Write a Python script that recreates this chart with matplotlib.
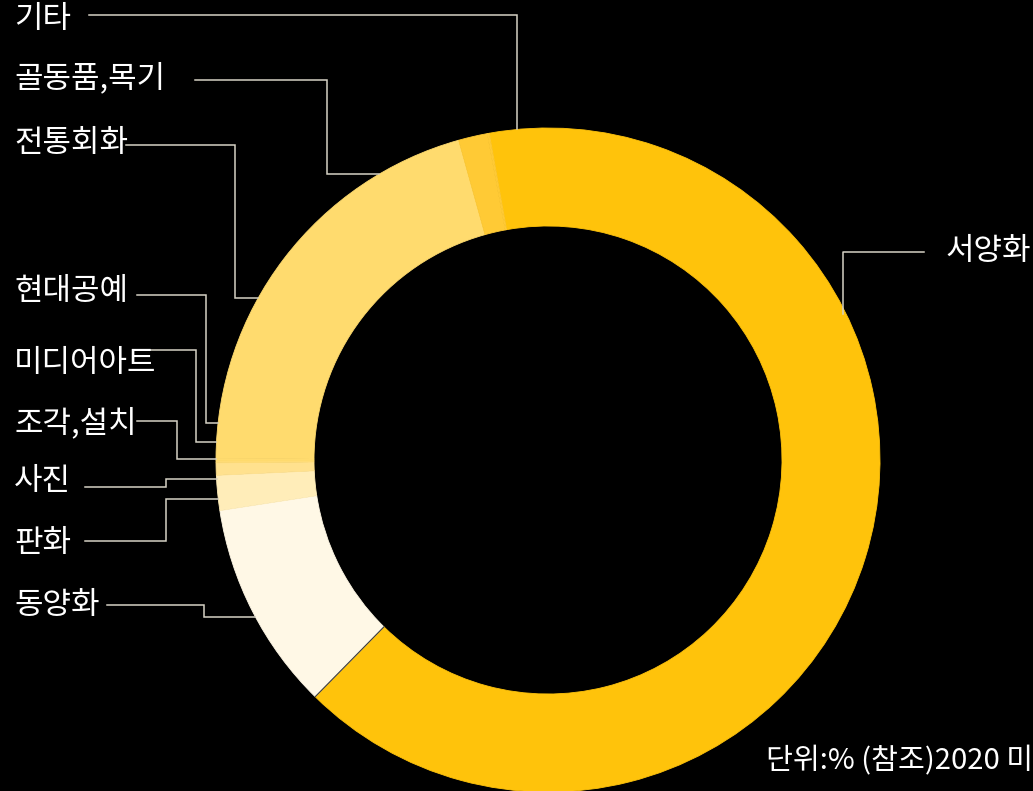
"""Donut chart: 2020 art market share by genre (단위: %)."""
import numpy as np
import matplotlib
matplotlib.use("Agg")
import matplotlib.pyplot as plt

plt.rcParams["font.family"] = ["Noto Sans CJK KR", "DejaVu Sans"]

W, H = 1033, 791

# data, clockwise from the top
genres = ["서양화", "동양화", "판화", "사진", "조각,설치", "미디어아트",
          "현대공예", "전통회화", "골동품,목기", "기타"]
shares = [65.2, 10.2, 1.7, 0.6, 0.1, 0.0, 0.1, 20.6, 1.4, 0.1]
colors = ["#FFC30B", "#FFF8E6", "#FFEDB9", "#FFE18E", "#FFDC76", "#FFDB70",
          "#FFDB6E", "#FFDB6E", "#FFCA35", "#FFCA35"]
note = "단위:% (참조)2020 미"

# layout (pixel coords, y down)
CX, CY = 548, 460
R_OUT, R_IN = 332, 234
START = 100.2
LINE_C = "#D6D1C4"
FS = 22.3

# label text position + leader path (x, y) points; last point lands on ring
labels = {
    "기타":       ((14, 20),  [(89, 15), (517, 15), (517, None)]),
    "골동품,목기": ((14, 78),  [(195, 80), (327, 80), (327, 174), (None, 174)]),
    "전통회화":    ((14, 144), [(126, 145), (235, 145), (235, 298), (None, 298)]),
    "현대공예":    ((14, 292), [(137, 295), (206, 295), (206, 423), (None, 423)]),
    "미디어아트":  ((14, 364), [(147, 350), (196, 350), (196, 442), (None, 442)]),
    "조각,설치":   ((14, 423), [(137, 421), (177, 421), (177, 459), (None, 459)]),
    "사진":       ((14, 482), [(85, 487), (166, 487), (166, 479), (None, 479)]),
    "판화":       ((14, 543), [(85, 541), (166, 541), (166, 499), (None, 499)]),
    "동양화":      ((14, 605), [(107, 605), (204, 605), (204, 617), (None, 617)]),
}


def py(y):
    return H - y


def ring_x(y, side=-1):
    dy = y - CY
    return CX + side * np.sqrt(R_OUT ** 2 - dy ** 2)


def ring_y_top(x):
    dx = x - CX
    return CY - np.sqrt(R_OUT ** 2 - dx ** 2)


fig = plt.figure(figsize=(W / 100, H / 100), dpi=100, facecolor="black")
ax = fig.add_axes([0, 0, 1, 1])
ax.set_facecolor("black")

wedges, _ = ax.pie(shares, colors=colors, startangle=START, counterclock=False,
                   center=(CX, py(CY)), radius=R_OUT, frame=True,
                   wedgeprops=dict(width=R_OUT - R_IN, linewidth=0.6))
# edge in the face colour hides antialias seams between wedges
for w in wedges:
    w.set_edgecolor(w.get_facecolor())
ax.set_xlim(0, W)
ax.set_ylim(0, H)
ax.set_aspect("equal")
ax.axis("off")

# thin seam between 서양화 and 동양화
ang = np.deg2rad(START - shares[0] / sum(shares) * 360)
ax.plot([CX + R_IN * np.cos(ang), CX + R_OUT * np.cos(ang)],
        [py(CY) + R_IN * np.sin(ang), py(CY) + R_OUT * np.sin(ang)],
        color="#3a3a3a", lw=0.8)

for name, ((tx, ty), path) in labels.items():
    ax.text(tx, py(ty), name, color="white", fontsize=FS, fontweight="light",
            ha="left", va="center")
    pts = []
    for x, y in path:
        if x is None:
            x = ring_x(y)
        if y is None:
            y = ring_y_top(x)
        pts.append((x, py(y)))
    xs, ys = zip(*pts)
    ax.plot(xs, ys, color=LINE_C, lw=1.1, solid_joinstyle="miter")

# 서양화 on the right
ax.text(945, py(251), genres[0], color="white", fontsize=FS,
        fontweight="light", ha="left", va="center")
ax.plot([924, 843, 843], [py(252), py(252), py(ring_y_top(843) + 6)],
        color=LINE_C, lw=1.1)

ax.text(766, py(761), note, color="white", fontsize=21, fontweight="light",
        ha="left", va="center")

fig.savefig("out.png", dpi=100, facecolor="black")
